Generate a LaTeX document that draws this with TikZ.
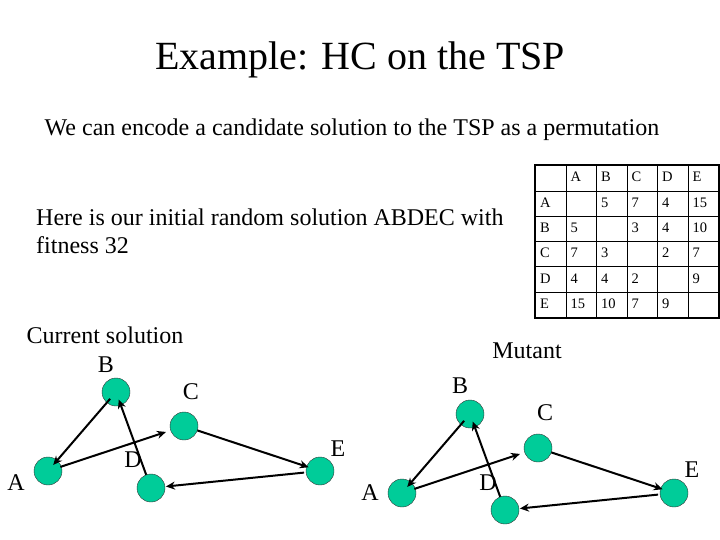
\documentclass[tikz,border=0pt]{standalone}
\usepackage{fontspec}
\setmainfont{Liberation Serif}
\usetikzlibrary{arrows.meta,matrix}
\definecolor{citygreen}{RGB}{0,204,153}

\begin{document}
\begin{tikzpicture}[x=1pt,y=-1pt,
  city/.style={circle,draw=black!80,thin,fill=citygreen,minimum size=28pt,inner sep=0pt},
  citylabel/.style={font=\fontsize{24}{28}\selectfont,inner sep=0pt},
  tour/.style={line width=2pt,-{Stealth[length=9pt,width=8pt]}}]
  \useasboundingbox (0,0) rectangle (720,540);
  \node (title) at (360,60) {\fontsize{40}{48}\selectfont Example: HC on the TSP};
  \node (intro) at (352,130) {\fontsize{24}{28}\selectfont We can encode a candidate solution to the TSP as a permutation};
  \node[anchor=west,align=left,inner sep=0pt,font=\fontsize{24}{28}\selectfont] (start) at (36,231)
    {Here is our initial random solution ABDEC with\\fitness 32};
  % distance table
  \matrix (dist) [matrix of nodes,nodes in empty cells,inner sep=0pt,
    column sep=-1pt,row sep=-1pt,anchor=north west,
    nodes={draw,line width=1pt,text width=21.5pt,inner xsep=4.5pt,inner ysep=0pt,
      text height=10pt,text depth=3pt,minimum height=25.3pt,
      font=\fontsize{14.5}{15}\selectfont}] at (535,165) {
      & A  & B  & C & D & E  \\
    A &    & 5  & 7 & 4 & 15 \\
    B & 5  &    & 3 & 4 & 10 \\
    C & 7  & 3  &   & 2 & 7  \\
    D & 4  & 4  & 2 &   & 9  \\
    E & 15 & 10 & 7 & 9 &    \\
  };
  \draw[line width=2pt] (dist.north west) rectangle (dist.south east);
  % current solution
  \node[citylabel] (cur) at (105,335) {Current solution};
  \node[city] (A) at (48,471) {};
  \node[city] (B) at (116,392) {};
  \node[city] (C) at (184,426) {};
  \node[city] (D) at (151,488) {};
  \node[city] (E) at (320,471) {};
  \node[citylabel] (lA) at (16,483) {A};
  \node[citylabel] (lB) at (106,365) {B};
  \node[citylabel] (lC) at (191,392) {C};
  \node[citylabel] (lD) at (133,460) {D};
  \node[citylabel] (lE) at (338,449) {E};
  \draw[tour,shorten <=9pt,shorten >=8pt] (B.center) -- (A.center);
  \draw[tour,shorten <=13pt,shorten >=19pt] (A.center) -- (C.center);
  \draw[tour,shorten <=14pt,shorten >=12pt] (C.center) -- (E.center);
  \draw[tour,shorten <=16pt,shorten >=15pt] (E.center) -- (D.center);
  \draw[tour,shorten <=14pt,shorten >=8pt] (D.center) -- (B.center);
  % mutant
  \node[citylabel] (mut) at (527,351) {Mutant};
  \begin{scope}[shift={(354,22)}]
    \node[city] (mA) at (48,471) {};
    \node[city] (mB) at (116,392) {};
    \node[city] (mC) at (184,426) {};
    \node[city] (mD) at (151,488) {};
    \node[city] (mE) at (320,471) {};
    \node[citylabel] (mlA) at (16,471) {A};
    \node[citylabel] (mlB) at (106,364) {B};
    \node[citylabel] (mlC) at (191,391) {C};
    \node[citylabel] (mlD) at (134,461) {D};
    \node[citylabel] (mlE) at (338,448) {E};
    \draw[tour,shorten <=9pt,shorten >=8pt] (mB.center) -- (mA.center);
    \draw[tour,shorten <=13pt,shorten >=19pt] (mA.center) -- (mC.center);
    \draw[tour,shorten <=14pt,shorten >=12pt] (mC.center) -- (mE.center);
    \draw[tour,shorten <=16pt,shorten >=15pt] (mE.center) -- (mD.center);
    \draw[tour,shorten <=14pt,shorten >=8pt] (mD.center) -- (mB.center);
  \end{scope}
\end{tikzpicture}
\end{document}
